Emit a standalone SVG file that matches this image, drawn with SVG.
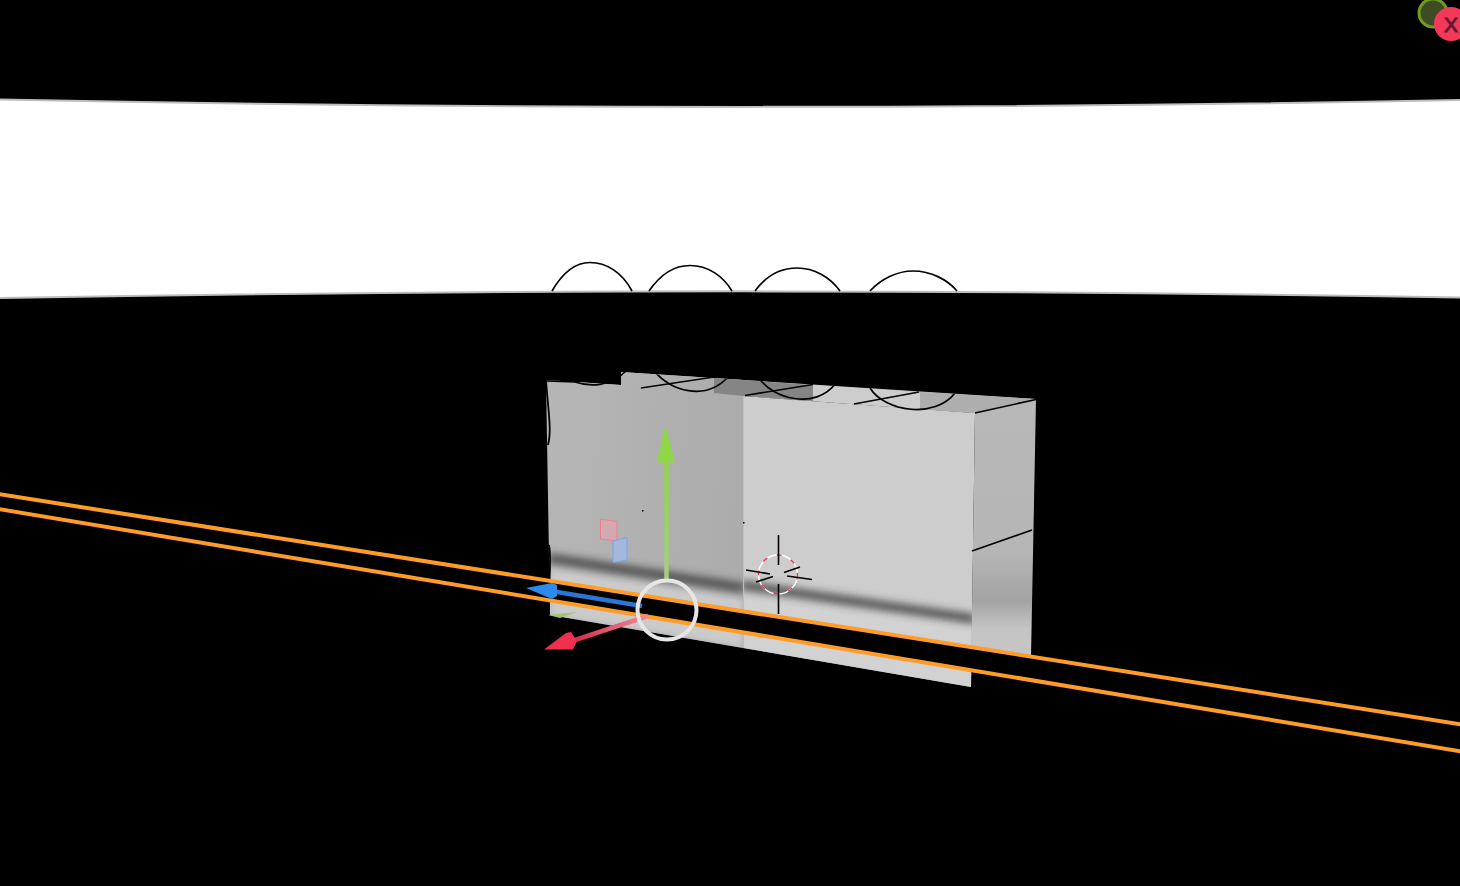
<svg xmlns="http://www.w3.org/2000/svg" width="1460" height="886" viewBox="0 0 1460 886">
<style>
.ink{fill:none;stroke:#000;stroke-width:1.7}
.or{fill:none;stroke:#ff9c28;stroke-width:4}
</style>
<defs>
<filter id="b3" x="-10%" y="-200%" width="120%" height="500%"><feGaussianBlur stdDeviation="3"/></filter>
<filter id="b4" x="-10%" y="-200%" width="120%" height="500%"><feGaussianBlur stdDeviation="4"/></filter>
<linearGradient id="lp" x1="0" y1="0" x2="1" y2="0.1"><stop offset="0" stop-color="#b6b6b6"/><stop offset="1" stop-color="#acacac"/></linearGradient>
<linearGradient id="rf" x1="0" y1="0" x2="0" y2="1"><stop offset="0" stop-color="#b8b8b8"/><stop offset=".55" stop-color="#b6b6b6"/><stop offset=".74" stop-color="#a4a4a4"/><stop offset=".84" stop-color="#c4c4c4"/><stop offset="1" stop-color="#c8c8c8"/></linearGradient>
<linearGradient id="gs" x1="0" y1="463" x2="0" y2="580" gradientUnits="userSpaceOnUse"><stop offset="0" stop-color="#8fd648"/><stop offset="1" stop-color="#a6cc82"/></linearGradient>
<linearGradient id="rs" x1="575" y1="640" x2="648" y2="616" gradientUnits="userSpaceOnUse"><stop offset="0" stop-color="#d42c4c"/><stop offset="1" stop-color="#f08a98"/></linearGradient>
<clipPath id="body"><polygon points="546,380 621,385 621,372 1036,399 1031,657 971,687 743,648 550,615"/></clipPath>
<clipPath id="left"><polygon points="546,380 621,385 621,372 743,380 743,648 550,615"/></clipPath>
<clipPath id="front"><polygon points="743,396 975,413 971,687 743,648"/></clipPath>
</defs>
<rect width="1460" height="886" fill="#000"/>
<g id="white-band">
<path d="M-5,99.500 Q730,114 1465,100 L1465,297.500 Q730,285 -5,298Z" fill="#fff" stroke="#bdbdbd" stroke-width="2"/>
<g>
<path class="ink" d="M552,291 C563,272 576,262.500 590,262.500 C606,262.500 622,272 632,291"/>
<path class="ink" d="M649,291 C660,275 673,265.500 690,265.500 C708,265.500 723,276 732,291"/>
<path class="ink" d="M755,291 C766,276 781,268 797,268 C814,268 830,277 840,291"/>
<path class="ink" d="M870,291 C881,279 897,271 913,271 C931,271 948,280 957,291"/>
</g>
</g>
<g id="block">
<polygon points="546,380 621,385 621,372 1036,399 975,413 743,396" fill="#bcbcbc"/>
<polygon points="546,380 621,385 621,372 743,380 743,648 550,615" fill="url(#lp)"/>
<polygon points="743,396 975,413 971,687 743,648" fill="#cdcdcd"/>
<polygon points="975,413 1036,399 1031,657 971,672" fill="url(#rf)"/>
<polygon points="714,378 813,385 813,401 743,396 714,393" fill="#858585"/>
<polygon points="813,385 920,392 920,409 813,401" fill="#cdcdcd"/>
<polygon points="920,392 1036,399 975,413 920,409" fill="#aeaeae"/>
<g clip-path="url(#left)">
<polygon points="550,568 743,598 743,648 550,615" fill="#cbcbcb" filter="url(#b3)"/>
<line x1="548" y1="558" x2="745" y2="588" stroke="#3c3c3c" stroke-width="8" filter="url(#b4)"/>
</g>
<g clip-path="url(#front)">
<polygon points="743,594 975,628 975,690 743,650" fill="#d2d2d2" filter="url(#b3)"/>
<line x1="741" y1="585" x2="975" y2="619" stroke="#404040" stroke-width="8" filter="url(#b4)"/>
</g>
<line x1="743.500" y1="396" x2="743.500" y2="648" stroke="#bdbdbd" stroke-width="1"/>
<g clip-path="url(#body)">
<path class="ink" d="M655,372 C670,390 705,402 728,377"/>
<path class="ink" d="M759,378 C772,398 815,411 836,383"/>
<path class="ink" d="M870,388 C885,412 935,419 955,393"/>
</g>
<path class="ink" d="M547,381 L575,382 C590,387 610,387 626,371"/>
<path d="M546,380 C548,410 552,430 548,445 M549,545 C552,560 548,590 549,610" fill="none" stroke="#000" stroke-width="1.800"/>
<g fill="none" stroke="#000" stroke-width="1.600">
<line x1="641" y1="388" x2="714" y2="377"/>
<line x1="745" y1="395.500" x2="813" y2="384.500"/>
<line x1="854" y1="404" x2="919" y2="392"/>
<line x1="975" y1="413" x2="1036" y2="399.500"/>
<line x1="972" y1="551" x2="1032" y2="530"/>
</g>
<rect x="642" y="510" width="1.500" height="1.500" fill="#000"/>
<rect x="743" y="522" width="1.500" height="1.500" fill="#000"/>
</g>
<g id="stripe">
<polygon points="0,494 1460,724 1460,751 0,509" fill="#000"/>
<line class="or" x1="-2" y1="494" x2="1462" y2="724.500"/>
<line class="or" x1="-2" y1="509" x2="1462" y2="751.500"/>
</g>
<g id="cursor">
<circle cx="778" cy="574.500" r="19.500" fill="none" stroke="#fff" stroke-width="1.400"/>
<circle cx="778" cy="574.500" r="19.500" fill="none" stroke="#e8344f" stroke-width="1.400" stroke-dasharray="5 10"/>
<g stroke="#000" stroke-width="1.600">
<line x1="778.500" y1="535" x2="778.500" y2="565"/>
<line x1="778.500" y1="584" x2="778.500" y2="614"/>
<line x1="746" y1="570" x2="770" y2="574"/>
<line x1="787" y1="576" x2="812" y2="579.500"/>
<line x1="756" y1="582" x2="773" y2="576.500"/>
<line x1="784" y1="572.500" x2="800" y2="567"/>
</g>
</g>
<g id="gizmo">
<polygon points="600.500,519 617,521.500 617,541 600.500,539" fill="#d3a8b0" stroke="#ef7d8d" stroke-width="1"/>
<polygon points="613,541 627,537.500 627,560 613,562.500" fill="#a3b8dc" stroke="#7ba4ea" stroke-width="1"/>
<polygon points="548,615 577,612 560,618" fill="#9fc27a"/>
<line x1="666.500" y1="462" x2="666.500" y2="580" stroke="url(#gs)" stroke-width="4.500"/>
<polygon points="665.500,425 675,462 666,463 657,462" fill="#8fd648"/>
<line x1="554" y1="591.500" x2="642" y2="606" stroke="#2a76d6" stroke-width="4.500"/>
<polygon points="526,588 552,583 557,585 557,596 552,599" fill="#2f8af0"/>
<line x1="575" y1="640" x2="648" y2="616" stroke="url(#rs)" stroke-width="4.500"/>
<polygon points="544,649.500 566,633 571,632 577,641 573,649.500" fill="#f0304f"/>
<circle cx="667" cy="610" r="29.500" fill="none" stroke="#e6e6e6" stroke-width="4"/>
</g>
<g id="corner">
<circle cx="1433" cy="13" r="14" fill="#3f4b24" stroke="#6f9c20" stroke-width="3"/>
<circle cx="1451" cy="24" r="17" fill="#f5385a"/>
<text x="1451" y="31.500" font-family="Liberation Sans, sans-serif" font-size="21" text-anchor="middle" fill="#5f1a30" stroke="#5f1a30" stroke-width="1">X</text>
</g>
</svg>
